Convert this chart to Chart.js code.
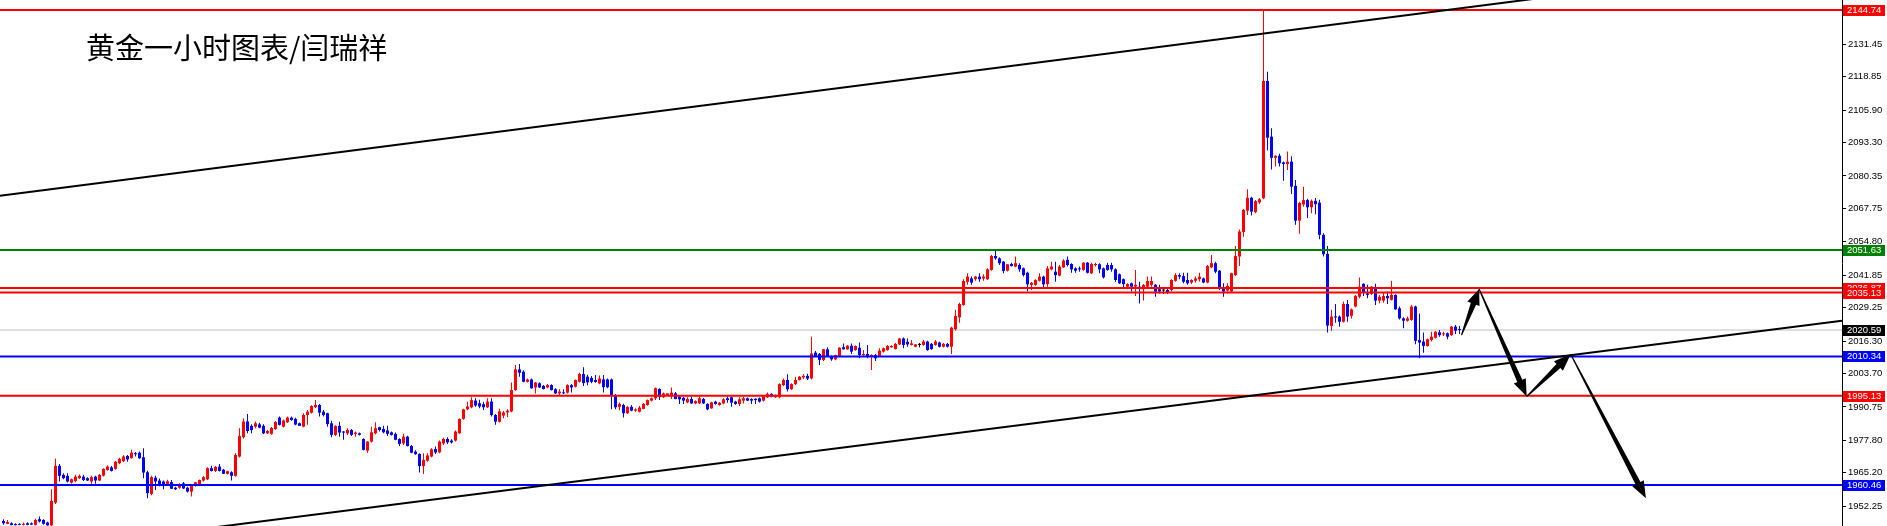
<!DOCTYPE html>
<html>
<head>
<meta charset="utf-8">
<title>黄金一小时图表</title>
<script src="https://cdn.jsdelivr.net/npm/chart.js@4.4.1/dist/chart.umd.min.js"></script>
<style>
  html, body { margin: 0; padding: 0; background: #ffffff; }
  canvas { display: block; }
</style>
</head>
<body>
<canvas id="chart" width="1887" height="526"></canvas>
<script>
// hourly gold candles, oldest first
const opens = [
  1946.5, 1945.4, 1945.6, 1945.3, 1945.3, 1945.0, 1945.6, 1945.6, 1945.0, 1947.2,
  1946.9, 1945.9, 1944.8, 1953.6, 1967.9, 1964.4, 1964.0, 1961.4, 1962.0, 1963.1,
  1963.7, 1963.1, 1961.8, 1963.7, 1962.2, 1964.1, 1966.3, 1967.3, 1966.7, 1968.9,
  1969.7, 1971.7, 1970.9, 1972.8, 1973.0, 1971.2, 1965.4, 1957.0, 1963.3, 1962.2,
  1961.8, 1960.9, 1961.6, 1959.4, 1959.4, 1961.1, 1959.4, 1957.9, 1960.2, 1960.5,
  1962.2, 1962.7, 1967.0, 1965.9, 1967.6, 1966.4, 1964.8, 1965.4, 1964.0, 1971.5,
  1979.0, 1985.1, 1983.4, 1983.1, 1984.0, 1983.4, 1980.5, 1980.3, 1982.2, 1986.6,
  1983.1, 1984.8, 1986.6, 1986.1, 1984.4, 1983.1, 1987.6, 1988.5, 1990.6, 1991.5,
  1988.9, 1988.3, 1984.4, 1979.9, 1983.4, 1981.2, 1980.5, 1981.8, 1980.3, 1980.5,
  1978.3, 1973.8, 1977.3, 1980.5, 1982.9, 1982.2, 1981.6, 1980.9, 1980.3, 1978.3,
  1976.6, 1979.2, 1975.6, 1973.4, 1972.5, 1967.8, 1969.9, 1971.5, 1974.4, 1973.1,
  1976.6, 1978.3, 1977.7, 1977.7, 1980.5, 1986.1, 1989.8, 1990.6, 1993.2, 1992.2,
  1991.8, 1990.6, 1992.8, 1987.6, 1985.0, 1987.4, 1988.6, 1989.0, 1997.3, 2005.3,
  2004.4, 2000.5, 2001.4, 1998.3, 1999.9, 1998.9, 1998.3, 1999.2, 1997.6, 1996.0,
  1996.3, 1996.3, 1999.2, 1998.6, 2000.5, 2003.5, 2002.5, 2002.0, 2001.2, 1999.9,
  2001.4, 2001.4, 2001.4, 1995.4, 1990.8, 1991.5, 1988.3, 1990.8, 1989.3, 1988.9,
  1990.0, 1991.5, 1993.2, 1994.1, 1997.7, 1994.5, 1995.4, 1995.4, 1996.0, 1994.7,
  1994.3, 1992.5, 1993.8, 1992.1, 1992.1, 1993.8, 1991.9, 1990.2, 1992.8, 1991.5,
  1992.1, 1994.1, 1994.5, 1992.8, 1991.9, 1993.2, 1994.1, 1993.8, 1993.9, 1994.1,
  1993.2, 1994.5, 1995.8, 1994.5, 1994.5, 1999.2, 2001.2, 1997.6, 1999.6, 2001.2,
  2002.2, 2002.8, 2001.8, 2011.8, 2011.3, 2009.0, 2013.1, 2010.5, 2009.2, 2010.5,
  2013.9, 2013.1, 2014.5, 2012.8, 2013.7, 2010.9, 2011.3, 2010.2, 2010.9, 2010.5,
  2012.2, 2012.8, 2013.9, 2013.2, 2015.0, 2017.3, 2016.0, 2014.8, 2014.1, 2014.8,
  2014.8, 2016.1, 2015.2, 2014.8, 2015.7, 2014.1, 2015.2, 2014.1, 2020.9, 2025.5,
  2030.3, 2039.3, 2040.6, 2040.3, 2041.3, 2040.6, 2040.3, 2043.9, 2049.3, 2048.4,
  2047.1, 2043.6, 2046.2, 2045.2, 2045.8, 2044.5, 2042.8, 2038.1, 2038.1, 2039.7,
  2041.3, 2038.4, 2044.1, 2043.2, 2041.7, 2044.9, 2047.8, 2046.2, 2044.5, 2044.5,
  2043.9, 2046.7, 2042.6, 2045.8, 2046.1, 2044.5, 2045.8, 2045.8, 2044.1, 2042.2,
  2040.3, 2037.4, 2038.7, 2037.4, 2037.4, 2036.4, 2037.4, 2038.1, 2038.1, 2036.4,
  2035.9, 2036.1, 2036.1, 2039.7, 2041.9, 2041.5, 2040.0, 2039.0, 2039.7, 2040.3,
  2040.6, 2039.0, 2044.9, 2046.5, 2043.6, 2036.8, 2035.9, 2035.5, 2041.9, 2049.1,
  2058.6, 2066.9, 2071.9, 2066.3, 2070.1, 2071.7, 2117.2, 2095.6, 2087.4, 2088.2,
  2085.6, 2085.0, 2085.9, 2076.5, 2063.0, 2069.3, 2071.0, 2068.2, 2070.7, 2070.0,
  2057.5, 2050.1, 2022.2, 2025.8, 2025.8, 2023.8, 2030.7, 2026.1, 2029.7, 2033.5,
  2038.5, 2034.8, 2034.6, 2036.8, 2032.0, 2032.0, 2033.8, 2032.3, 2034.2, 2029.0,
  2025.1, 2024.2, 2024.5, 2029.7, 2016.7, 2016.1, 2014.4, 2016.7, 2017.6, 2019.7,
  2018.9, 2019.3, 2018.6, 2021.9, 2021.0
];
const highs = [
  1947.2, 1946.9, 1946.0, 1945.6, 1945.6, 1945.9, 1946.0, 1945.9, 1947.4, 1948.2,
  1947.2, 1946.2, 1958.8, 1970.7, 1968.6, 1965.0, 1965.0, 1963.0, 1964.4, 1964.5,
  1964.4, 1963.5, 1964.0, 1964.0, 1964.7, 1967.0, 1968.1, 1967.8, 1969.8, 1971.0,
  1972.0, 1972.1, 1974.1, 1973.3, 1973.5, 1974.7, 1966.0, 1964.0, 1964.0, 1963.0,
  1962.2, 1962.5, 1962.4, 1959.8, 1961.1, 1961.6, 1959.8, 1960.3, 1961.6, 1962.6,
  1963.9, 1967.3, 1967.9, 1967.8, 1968.6, 1966.7, 1966.0, 1965.8, 1972.8, 1982.5,
  1986.4, 1988.0, 1984.0, 1985.1, 1984.6, 1984.0, 1981.8, 1983.0, 1985.3, 1987.0,
  1985.9, 1987.0, 1987.0, 1986.5, 1984.7, 1988.3, 1989.6, 1991.4, 1993.4, 1991.9,
  1989.6, 1988.5, 1985.4, 1983.6, 1985.0, 1981.4, 1982.5, 1982.2, 1981.2, 1980.8,
  1978.6, 1977.5, 1983.1, 1984.8, 1983.1, 1983.4, 1983.4, 1981.2, 1980.8, 1978.6,
  1980.3, 1979.6, 1976.0, 1973.9, 1972.8, 1972.8, 1972.8, 1974.7, 1975.4, 1977.7,
  1978.8, 1979.0, 1978.2, 1981.6, 1986.3, 1990.0, 1992.8, 1994.5, 1994.1, 1993.5,
  1992.8, 1994.1, 1994.1, 1988.0, 1990.0, 1989.2, 1989.8, 2000.2, 2007.0, 2007.4,
  2005.0, 2001.8, 2001.8, 2000.4, 2000.3, 1999.3, 1999.6, 1999.5, 1998.0, 1997.6,
  1997.6, 1999.5, 1999.6, 2001.4, 2004.0, 2006.1, 2003.2, 2002.7, 2003.1, 2002.9,
  2003.1, 2001.8, 2001.8, 1995.8, 1992.5, 1992.0, 1991.0, 1991.5, 1990.2, 1991.1,
  1992.3, 1993.6, 1994.4, 1998.3, 1998.0, 1996.3, 1996.1, 1998.3, 1996.5, 1995.0,
  1994.6, 1994.5, 1994.7, 1993.3, 1994.7, 1994.2, 1992.2, 1992.8, 1993.1, 1992.7,
  1994.1, 1994.7, 1994.7, 1993.1, 1994.5, 1994.7, 1994.4, 1994.1, 1994.1, 1994.4,
  1995.3, 1996.3, 1996.1, 1995.6, 1999.9, 2001.8, 2003.4, 1999.9, 2002.5, 2002.7,
  2003.4, 2003.6, 2018.0, 2012.4, 2011.7, 2013.2, 2013.9, 2010.8, 2011.0, 2013.9,
  2015.4, 2014.8, 2015.4, 2014.6, 2015.7, 2012.8, 2014.8, 2011.2, 2011.3, 2013.5,
  2013.8, 2014.8, 2014.7, 2015.5, 2017.5, 2017.7, 2017.3, 2016.7, 2015.2, 2015.5,
  2016.7, 2016.4, 2015.5, 2016.7, 2016.0, 2015.5, 2015.5, 2021.9, 2028.4, 2031.2,
  2040.3, 2042.6, 2041.3, 2041.5, 2042.6, 2042.2, 2044.5, 2049.7, 2051.4, 2048.8,
  2047.4, 2046.2, 2046.7, 2049.1, 2046.5, 2044.8, 2043.2, 2039.2, 2040.3, 2042.6,
  2041.6, 2045.4, 2047.1, 2047.1, 2045.8, 2048.0, 2049.1, 2046.5, 2044.9, 2045.2,
  2046.9, 2047.0, 2046.7, 2046.7, 2046.5, 2044.8, 2046.7, 2046.7, 2044.5, 2042.5,
  2040.6, 2038.7, 2039.0, 2043.9, 2039.3, 2038.4, 2041.3, 2041.3, 2038.4, 2038.1,
  2036.8, 2036.8, 2040.3, 2042.6, 2042.6, 2042.8, 2042.8, 2040.3, 2041.3, 2042.8,
  2041.0, 2045.8, 2049.7, 2047.1, 2043.9, 2038.7, 2038.7, 2042.8, 2053.2, 2059.6,
  2067.5, 2075.2, 2072.3, 2071.0, 2071.8, 2144.74, 2120.8, 2098.9, 2088.4, 2089.0,
  2086.0, 2089.8, 2088.0, 2078.8, 2070.3, 2076.2, 2071.5, 2071.2, 2071.8, 2071.1,
  2058.1, 2053.2, 2028.4, 2030.7, 2026.2, 2031.6, 2032.2, 2028.9, 2034.2, 2041.0,
  2038.7, 2038.1, 2037.7, 2038.5, 2034.2, 2035.2, 2035.5, 2039.7, 2034.5, 2029.7,
  2025.5, 2025.8, 2030.3, 2030.0, 2027.0, 2019.6, 2017.3, 2019.9, 2020.2, 2020.6,
  2019.9, 2019.6, 2022.1, 2022.5, 2022.1
];
const lows = [
  1945.0, 1945.2, 1944.8, 1944.7, 1944.8, 1944.7, 1944.8, 1944.9, 1944.7, 1945.9,
  1945.0, 1944.6, 1944.6, 1953.1, 1961.8, 1962.7, 1961.4, 1961.0, 1961.5, 1962.8,
  1962.0, 1962.0, 1960.9, 1960.9, 1962.0, 1963.8, 1966.0, 1965.7, 1966.4, 1968.5,
  1969.4, 1969.5, 1970.6, 1971.5, 1970.6, 1963.1, 1955.3, 1956.5, 1958.5, 1960.0,
  1958.8, 1960.5, 1958.9, 1958.5, 1959.0, 1958.9, 1957.5, 1956.0, 1959.8, 1960.1,
  1961.8, 1962.4, 1965.7, 1965.5, 1965.7, 1964.7, 1964.5, 1962.2, 1963.7, 1971.1,
  1978.5, 1980.5, 1980.5, 1982.5, 1982.5, 1980.2, 1980.2, 1980.0, 1981.9, 1983.5,
  1982.8, 1984.5, 1985.4, 1983.6, 1983.3, 1982.9, 1983.8, 1988.2, 1990.2, 1987.0,
  1987.0, 1983.1, 1979.0, 1979.5, 1979.2, 1978.0, 1979.9, 1979.5, 1979.2, 1979.7,
  1973.8, 1973.0, 1976.9, 1980.1, 1981.2, 1980.5, 1979.5, 1979.7, 1977.8, 1975.6,
  1976.0, 1975.4, 1972.8, 1972.2, 1965.3, 1964.7, 1969.5, 1971.2, 1972.5, 1972.8,
  1976.0, 1976.4, 1976.6, 1977.3, 1980.3, 1985.8, 1989.6, 1990.2, 1990.8, 1990.2,
  1989.6, 1990.3, 1987.0, 1983.8, 1984.7, 1986.4, 1986.8, 1988.7, 1997.0, 2002.5,
  2000.3, 2000.2, 1997.8, 1996.0, 1998.1, 1997.5, 1998.0, 1997.1, 1995.8, 1995.4,
  1995.8, 1996.0, 1996.3, 1998.3, 2000.2, 1998.9, 1999.2, 1999.9, 2000.1, 1999.5,
  1996.3, 1998.0, 1989.8, 1989.8, 1989.5, 1986.6, 1988.0, 1989.1, 1988.9, 1988.6,
  1989.8, 1991.2, 1992.9, 1993.4, 1993.4, 1994.2, 1995.0, 1993.8, 1993.7, 1991.9,
  1991.9, 1992.2, 1992.0, 1991.8, 1991.9, 1991.9, 1989.5, 1990.0, 1991.6, 1991.2,
  1991.8, 1992.4, 1990.8, 1991.6, 1991.1, 1992.1, 1993.0, 1991.9, 1991.9, 1992.5,
  1992.9, 1994.2, 1994.5, 1994.2, 1994.1, 1998.9, 1996.7, 1997.3, 1999.3, 2001.0,
  2001.6, 2001.2, 2001.4, 2010.3, 2007.0, 2008.6, 2010.3, 2008.7, 2008.9, 2010.2,
  2013.0, 2012.9, 2011.3, 2012.5, 2009.6, 2010.6, 2009.6, 2005.1, 2008.6, 2010.2,
  2011.9, 2012.5, 2013.7, 2013.0, 2014.8, 2013.5, 2014.1, 2014.6, 2013.9, 2013.9,
  2014.5, 2012.5, 2012.9, 2014.5, 2013.8, 2013.8, 2013.8, 2011.3, 2020.3, 2023.4,
  2030.0, 2038.1, 2038.1, 2039.7, 2039.3, 2039.7, 2040.0, 2043.6, 2047.8, 2045.8,
  2042.6, 2043.3, 2045.2, 2044.9, 2043.2, 2041.3, 2035.5, 2036.1, 2037.8, 2039.4,
  2036.8, 2037.4, 2043.8, 2039.3, 2041.4, 2044.6, 2045.2, 2042.8, 2042.8, 2043.2,
  2043.6, 2042.5, 2042.3, 2045.2, 2042.6, 2040.6, 2043.6, 2043.2, 2039.3, 2038.4,
  2037.1, 2036.4, 2035.5, 2033.8, 2030.9, 2032.0, 2037.1, 2037.4, 2033.5, 2034.8,
  2034.6, 2034.6, 2035.5, 2039.3, 2040.3, 2038.7, 2038.1, 2038.4, 2039.0, 2039.4,
  2038.7, 2038.7, 2044.5, 2042.6, 2036.1, 2033.5, 2034.8, 2035.1, 2041.5, 2045.4,
  2056.8, 2065.2, 2065.0, 2065.9, 2069.5, 2071.3, 2090.2, 2082.9, 2084.0, 2084.0,
  2078.5, 2082.7, 2073.4, 2061.4, 2057.9, 2068.4, 2064.0, 2065.9, 2065.5, 2055.8,
  2049.1, 2019.6, 2020.3, 2023.4, 2021.9, 2023.5, 2023.8, 2025.1, 2029.4, 2032.9,
  2033.8, 2032.9, 2034.2, 2030.3, 2031.0, 2031.2, 2030.7, 2032.0, 2028.4, 2024.7,
  2021.3, 2023.8, 2024.2, 2015.1, 2009.6, 2011.8, 2014.1, 2016.1, 2017.3, 2018.0,
  2018.3, 2017.0, 2018.3, 2019.0, 2019.0
];
const closes = [
  1945.6, 1946.1, 1944.9, 1944.9, 1945.0, 1945.4, 1945.0, 1945.1, 1946.9, 1946.3,
  1945.4, 1944.8, 1954.3, 1967.9, 1964.0, 1963.1, 1961.8, 1962.7, 1963.7, 1964.0,
  1962.4, 1962.2, 1963.5, 1962.2, 1964.4, 1966.7, 1967.6, 1965.9, 1969.5, 1970.6,
  1971.5, 1970.4, 1973.0, 1972.4, 1970.8, 1965.3, 1957.3, 1963.5, 1961.8, 1960.5,
  1960.5, 1961.9, 1959.0, 1958.8, 1960.5, 1959.1, 1957.9, 1960.1, 1961.5, 1962.4,
  1963.5, 1967.0, 1965.9, 1967.5, 1965.9, 1964.8, 1965.8, 1964.0, 1972.1, 1979.5,
  1985.1, 1981.4, 1981.8, 1984.4, 1982.7, 1980.5, 1981.4, 1982.6, 1984.9, 1983.8,
  1985.5, 1986.6, 1985.7, 1983.9, 1983.4, 1987.6, 1988.9, 1991.1, 1991.5, 1988.5,
  1987.6, 1984.1, 1979.9, 1983.4, 1980.8, 1980.8, 1981.8, 1979.9, 1980.8, 1979.9,
  1974.1, 1977.3, 1980.9, 1982.5, 1981.8, 1980.9, 1980.3, 1979.9, 1978.0, 1976.4,
  1979.2, 1975.6, 1973.0, 1972.4, 1967.8, 1970.2, 1971.9, 1974.3, 1973.1, 1977.3,
  1978.3, 1977.0, 1977.0, 1981.2, 1986.1, 1989.8, 1990.9, 1993.4, 1991.3, 1990.9,
  1990.6, 1992.8, 1987.6, 1985.0, 1989.0, 1988.6, 1989.3, 1997.3, 2005.3, 2004.0,
  2000.5, 2001.4, 1998.0, 2000.2, 1998.3, 1997.7, 1999.2, 1997.3, 1996.0, 1996.7,
  1996.0, 1999.2, 1998.3, 2001.2, 2003.5, 2000.0, 2000.3, 2000.5, 2000.4, 2001.8,
  1998.4, 1998.4, 1995.4, 1990.6, 1991.9, 1988.3, 1990.8, 1989.3, 1989.8, 1990.5,
  1991.9, 1993.4, 1994.1, 1998.0, 1994.7, 1996.0, 1996.0, 1996.3, 1993.8, 1993.7,
  1993.2, 1993.8, 1992.1, 1993.0, 1994.1, 1992.1, 1989.8, 1992.5, 1991.9, 1992.4,
  1993.7, 1993.4, 1992.4, 1991.9, 1993.7, 1994.1, 1993.2, 1993.2, 1993.4, 1992.8,
  1995.0, 1995.8, 1994.7, 1995.4, 1999.6, 2001.2, 1997.6, 1999.6, 2001.2, 2002.5,
  2002.8, 2001.7, 2011.5, 2010.5, 2009.0, 2013.1, 2010.5, 2009.2, 2010.9, 2013.7,
  2013.1, 2014.5, 2012.2, 2014.4, 2010.9, 2011.3, 2010.2, 2010.9, 2009.6, 2012.6,
  2013.5, 2014.4, 2014.4, 2015.2, 2017.3, 2014.8, 2015.0, 2015.4, 2015.0, 2014.8,
  2016.1, 2012.8, 2013.2, 2016.1, 2014.1, 2015.2, 2014.1, 2021.5, 2026.0, 2030.7,
  2039.6, 2041.3, 2039.0, 2041.3, 2040.3, 2041.3, 2044.1, 2049.3, 2048.4, 2046.5,
  2043.5, 2046.1, 2045.4, 2046.5, 2044.1, 2041.9, 2038.3, 2038.9, 2040.0, 2041.3,
  2038.3, 2044.5, 2045.2, 2041.9, 2045.2, 2047.5, 2045.8, 2044.1, 2043.6, 2044.1,
  2046.7, 2042.8, 2046.2, 2046.1, 2044.1, 2041.0, 2043.9, 2044.1, 2040.0, 2038.7,
  2038.4, 2038.4, 2037.4, 2038.1, 2036.8, 2038.1, 2039.6, 2039.6, 2035.5, 2035.5,
  2035.9, 2035.1, 2040.0, 2041.9, 2041.3, 2039.3, 2038.7, 2040.0, 2040.6, 2041.3,
  2039.0, 2045.4, 2046.5, 2043.2, 2036.8, 2035.5, 2037.7, 2042.6, 2049.3, 2058.8,
  2067.2, 2071.9, 2066.5, 2070.6, 2071.3, 2117.2, 2095.2, 2087.4, 2088.2, 2085.3,
  2085.0, 2085.9, 2076.2, 2063.0, 2069.9, 2071.0, 2068.2, 2070.7, 2069.4, 2057.5,
  2050.0, 2022.3, 2025.8, 2025.5, 2023.8, 2030.7, 2025.8, 2028.6, 2033.8, 2037.4,
  2035.1, 2034.2, 2037.4, 2032.0, 2033.5, 2033.8, 2032.9, 2034.2, 2028.6, 2025.1,
  2024.2, 2025.1, 2029.7, 2016.4, 2015.7, 2014.4, 2017.0, 2018.0, 2019.9, 2018.6,
  2019.3, 2018.0, 2021.9, 2020.3, 2020.6
];

// price scale labels on the right
const priceTicks = [2131.45, 2118.85, 2105.90, 2093.30, 2080.35, 2067.75, 2054.80,
  2041.85, 2029.25, 2016.30, 2003.70, 1990.75, 1977.80, 1965.20, 1952.25];

// horizontal levels
const redLevels = [2144.74, 2036.87, 2035.13, 1995.13];
const greenLevels = [2051.63];
const blueLevels = [2010.34, 1960.46];
const bidPrice = 2020.59;

// trend lines, two anchors each: [bar index, price]
const upperTrend = [[0, 2072.8], [300, 2132.6]];
const lowerTrend = [[349, 2002.4], [449, 2022.1]];

// projected path arrows: [from index, from price, to index, to price]
const arrows = [
  [364.5, 2018.6, 368.9, 2036.5],
  [368.9, 2036.5, 380.8, 1994.8],
  [380.8, 1994.8, 391.8, 2011.2],
  [391.8, 2011.2, 410.6, 1955.3]
];

const titleText = '黄金一小时图表/闫瑞祥';

const X_MIN = -0.875, X_MAX = 459.625;
const Y_MIN = 1944.55, Y_MAX = 2148.62;
const RED = '#ff0000', BLUE = '#0000ff', GREEN = '#008000';

const index = opens.map((_, i) => i);
const candleColors = index.map(i => {
    if (closes[i] > opens[i]) return RED;
    if (closes[i] < opens[i]) return BLUE;
    return '#000000';
});

function flatLine(price) {
    return [{ x: X_MIN, y: price }, { x: X_MAX, y: price }];
}

function trendLine(anchors) {
    const [[x1, y1], [x2, y2]] = anchors;
    const k = (y2 - y1) / (x2 - x1);
    return [{ x: X_MIN, y: y1 + k * (X_MIN - x1) }, { x: X_MAX, y: y1 + k * (X_MAX - x1) }];
}

function lineSet(data, color, width, order) {
    return {
        type: 'line', data, borderColor: color, borderWidth: width,
        pointRadius: 0, fill: false, tension: 0, order
    };
}

const datasets = [
    {
        type: 'bar',
        data: index.map(i => ({ x: i, y: [opens[i], closes[i]] })),
        backgroundColor: candleColors,
        barThickness: 3, minBarLength: 1, inflateAmount: 0,
        borderWidth: 0, borderSkipped: false, grouped: false, order: 3
    },
    {
        type: 'bar',
        data: index.map(i => ({ x: i, y: [lows[i], highs[i]] })),
        backgroundColor: candleColors,
        barThickness: 1, inflateAmount: 0,
        borderWidth: 0, borderSkipped: false, grouped: false, order: 4
    },
    lineSet(flatLine(bidPrice), '#c0c0c0', 1, 5)
];
redLevels.forEach(p => datasets.push(lineSet(flatLine(p), RED, 2, 1)));
greenLevels.forEach(p => datasets.push(lineSet(flatLine(p), GREEN, 2, 1)));
blueLevels.forEach(p => datasets.push(lineSet(flatLine(p), BLUE, 2, 1)));
datasets.push(lineSet(trendLine(upperTrend), '#000000', 2, 0));
datasets.push(lineSet(trendLine(lowerTrend), '#000000', 2, 0));

const arrowPlugin = {
    id: 'pathArrows',
    afterDatasetsDraw(chart) {
        const { ctx, scales: { x, y } } = chart;
        ctx.save();
        ctx.fillStyle = '#000000';
        arrows.forEach(([i1, p1, i2, p2]) => {
            const sx = x.getPixelForValue(i1), sy = y.getPixelForValue(p1);
            const tx = x.getPixelForValue(i2), ty = y.getPixelForValue(p2);
            const dx = tx - sx, dy = ty - sy;
            const len = Math.hypot(dx, dy);
            const ux = dx / len, uy = dy / len;
            const nx = -uy, ny = ux;
            const head = Math.min(17, len * 0.32);
            const bx = tx - ux * head, by = ty - uy * head;
            const w0 = 0.6, w1 = 2.8, hw = 6.5;
            ctx.beginPath();
            ctx.moveTo(sx + nx * w0, sy + ny * w0);
            ctx.lineTo(bx + nx * w1, by + ny * w1);
            ctx.lineTo(bx + nx * hw, by + ny * hw);
            ctx.lineTo(tx, ty);
            ctx.lineTo(bx - nx * hw, by - ny * hw);
            ctx.lineTo(bx - nx * w1, by - ny * w1);
            ctx.lineTo(sx - nx * w0, sy - ny * w0);
            ctx.closePath();
            ctx.fill();
        });
        ctx.restore();
    }
};

const overlayPlugin = {
    id: 'overlay',
    afterDraw(chart) {
        const { ctx, chartArea, scales: { y } } = chart;
        ctx.save();

        ctx.font = '29px "Noto Sans CJK SC"';
        ctx.fillStyle = '#000000';
        ctx.textBaseline = 'middle';
        ctx.textAlign = 'left';
        ctx.fillText(titleText, 86, 48);

        // price tags on the axis
        const tags = [];
        redLevels.forEach(p => tags.push([p, RED]));
        greenLevels.forEach(p => tags.push([p, GREEN]));
        blueLevels.forEach(p => tags.push([p, BLUE]));
        tags.push([bidPrice, '#000000']);

        ctx.font = '9.5px "Liberation Sans"';
        tags.forEach(([p, color]) => {
            const py = Math.round(y.getPixelForValue(p));
            ctx.fillStyle = color;
            ctx.fillRect(chartArea.right + 1, py - 5, 42, 11);
            ctx.fillStyle = '#ffffff';
            ctx.fillText(p.toFixed(2), chartArea.right + 5, py + 0.5);
        });
        ctx.restore();
    }
};

new Chart(document.getElementById('chart'), {
    type: 'bar',
    data: { datasets },
    options: {
        responsive: false,
        animation: false,
        devicePixelRatio: 1,
        layout: { padding: 0 },
        plugins: {
            legend: { display: false },
            tooltip: { enabled: false }
        },
        scales: {
            x: {
                type: 'linear', min: X_MIN, max: X_MAX,
                offset: false, display: false
            },
            y: {
                type: 'linear', position: 'right',
                min: Y_MIN, max: Y_MAX, beginAtZero: false,
                afterBuildTicks: scale => {
                    scale.ticks = priceTicks.map(v => ({ value: v }));
                },
                afterFit: scale => {
                    scale.width = 45;
                    scale.paddingTop = 0;
                    scale.paddingBottom = 0;
                },
                grid: { drawOnChartArea: false, tickLength: 4, color: '#000000', tickWidth: 1 },
                border: { display: true, color: '#000000', width: 1 },
                ticks: {
                    autoSkip: false, padding: 2, color: '#000000',
                    font: { family: 'Liberation Sans', size: 9.5 },
                    callback: v => Number(v).toFixed(2)
                }
            }
        }
    },
    plugins: [arrowPlugin, overlayPlugin]
});
</script>
</body>
</html>
